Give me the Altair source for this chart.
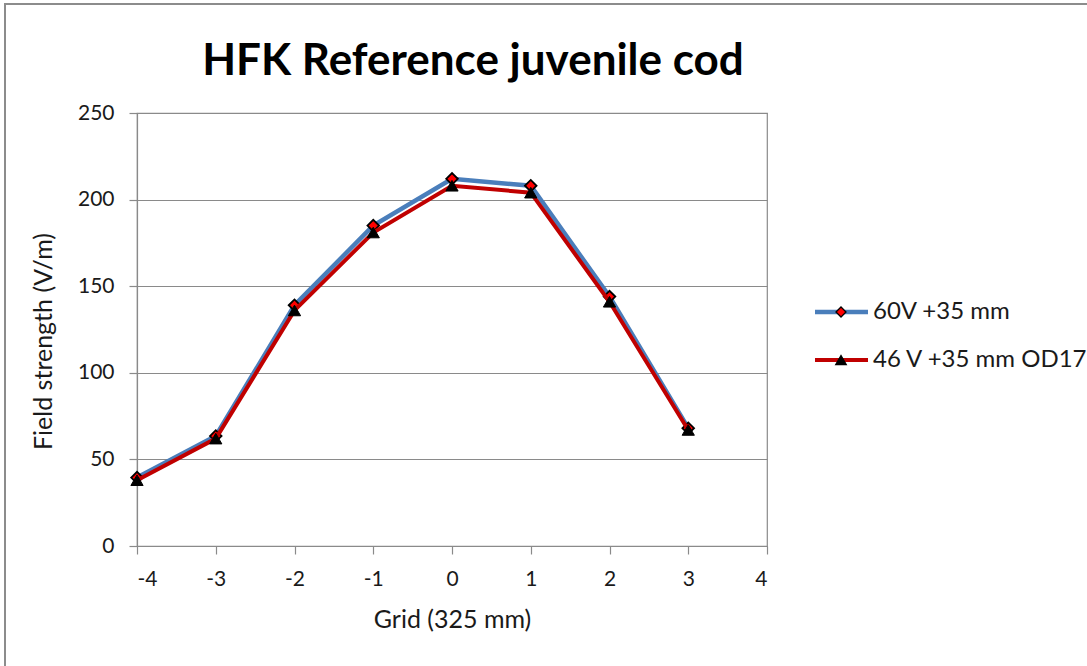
import altair as alt
import pandas as pd

# Measured field strength along the grid positions
grid = [-4, -3, -2, -1, 0, 1, 2, 3]
field_60v = [39.5, 63.5, 139, 185, 212, 208, 144, 68]
field_46v = [38, 62, 136, 181, 208, 204, 141, 67]
series_names = ["60V +35 mm", "46 V +35 mm OD17"]
chart_title = ["HFK Reference juvenile cod"]
x_ticks = [-4, -3, -2, -1, 0, 1, 2, 3, 4]
y_ticks = [0, 50, 100, 150, 200, 250]

FONT = "Lato"
TEXT = "#1a1a1a"
AXIS_GRAY = "#8a8a8a"
BLUE = "#4A7EBB"
RED = "#C00000"

x_enc = alt.X(
    "grid:Q",
    scale=alt.Scale(domain=[-4, 4], nice=False),
    axis=alt.Axis(values=x_ticks, title="Grid (325 mm)", grid=False,
                  tickSize=8, labelPadding=14, titlePadding=18,
                  labelExpr="'' + datum.value"),
)
y_enc = alt.Y(
    "field:Q",
    scale=alt.Scale(domain=[0, 250], nice=False),
    axis=alt.Axis(values=y_ticks, title="Field strength (V/m)", grid=True,
                  tickSize=8, labelPadding=15, titlePadding=21, titleY=228),
)

s1 = pd.DataFrame({"grid": grid, "field": field_60v, "series": series_names[0]})
s2 = pd.DataFrame({"grid": grid, "field": field_46v, "series": series_names[1]})

line1 = alt.Chart(s1).mark_line(color=BLUE, strokeWidth=4.5).encode(x=x_enc, y=y_enc)
pts1 = alt.Chart(s1).mark_point(shape="diamond", filled=True, fill="#FF0000",
                                 stroke="black", strokeWidth=1.8, size=135,
                                 opacity=1).encode(x="grid:Q", y="field:Q")
line2 = alt.Chart(s2).mark_line(color=RED, strokeWidth=4).encode(x="grid:Q", y="field:Q")
pts2 = alt.Chart(s2).mark_point(shape="triangle-up", filled=True, fill="black",
                                 stroke="black", strokeWidth=1, size=150,
                                 opacity=1).encode(x="grid:Q", y="field:Q")

# Chart heading, centred over the plot
title_mark = alt.Chart(pd.DataFrame({"t": chart_title})).mark_text(
    font=FONT, fontSize=44, fontWeight="bold", color="black",
    align="center", baseline="middle"
).encode(x=alt.value(336), y=alt.value(-51), text="t:N")

# Hand-built legend to the right of the plot area
legend_layers = []
legend_styles = [
    (BLUE, 4.5, "diamond", "#FF0000", 100),
    (RED, 4, "triangle-up", "black", 110),
]
for i, (name, (lc, lw, shape, fill, size)) in enumerate(zip(series_names, legend_styles)):
    row = pd.DataFrame({"series": [name]})
    ypos = 199 + 48 * i
    legend_layers.append(
        alt.Chart(row).mark_rule(color=lc, strokeWidth=lw).encode(
            x=alt.value(678), x2=alt.value(731), y=alt.value(ypos))
    )
    legend_layers.append(
        alt.Chart(row).mark_point(shape=shape, filled=True, fill=fill, stroke="black",
                                  strokeWidth=1.3, size=size, opacity=1).encode(
            x=alt.value(704), y=alt.value(ypos))
    )
    legend_layers.append(
        alt.Chart(row).mark_text(align="left", baseline="middle", font=FONT,
                                 fontSize=24, color=TEXT).encode(
            x=alt.value(736), y=alt.value(ypos), text="series:N")
    )

# Outer frame of the chart
frame = alt.Chart(pd.DataFrame({"k": [0]})).mark_rect(
    fillOpacity=0, stroke="#8c8c8c", strokeWidth=2
).encode(x=alt.value(-132), x2=alt.value(970), y=alt.value(-109), y2=alt.value(570))

chart = alt.layer(frame, line1, pts1, line2, pts2, title_mark, *legend_layers).properties(
    width=630,
    height=433,
    autosize=alt.AutoSizeParams(type="none"),
    padding={"left": 137, "top": 113, "right": 320, "bottom": 120},
    background="white",
).configure_view(
    stroke=AXIS_GRAY, strokeWidth=1.2
).configure_axis(
    domainColor=AXIS_GRAY, tickColor=AXIS_GRAY, gridColor=AXIS_GRAY,
    gridWidth=1.2, domainWidth=1.2, tickWidth=1.2,
    labelFont=FONT, labelFontSize=21, labelColor=TEXT,
    titleFont=FONT, titleFontSize=25, titleColor=TEXT, titleFontWeight="normal",
)

chart.save("out.html", embed_options={"renderer": "svg", "actions": False})
